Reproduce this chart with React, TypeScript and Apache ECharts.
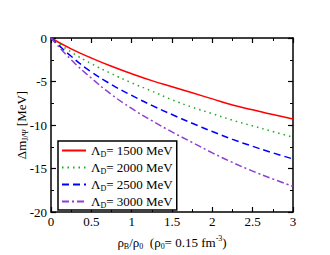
import React, { useEffect, useRef } from "react";
import * as echarts from "echarts";

const xValues = [0, 0.25, 0.5, 0.75, 1, 1.25, 1.5, 1.75, 2, 2.25, 2.5, 2.75, 3];
const lambda1500 = [0, -1.25, -2.3, -3.25, -4.1, -4.9, -5.6, -6.3, -7.0, -7.7, -8.25, -8.8, -9.3];
const lambda2000 = [0, -1.6, -2.95, -4.1, -5.15, -6.1, -7.1, -7.95, -8.7, -9.45, -10.1, -10.75, -11.4];
const lambda2500 = [0, -2.1, -3.9, -5.35, -6.6, -7.75, -8.8, -9.8, -10.75, -11.65, -12.45, -13.2, -13.9];
const lambda3000 = [0, -2.5, -4.6, -6.5, -8.1, -9.5, -10.8, -12.0, -13.2, -14.3, -15.3, -16.2, -17.05];
const seriesNames = ["1500", "2000", "2500", "3000"];
const seriesColors = ["#ff0000", "#1faa1f", "#0000ff", "#8f3fd0"];
const seriesDash: any[] = ["solid", [1.5, 4], [7, 4], [7, 3, 2, 3]];

const FONT = "'Liberation Serif', 'Times New Roman', serif";

export default function App() {
  const ref = useRef<HTMLDivElement>(null);
  useEffect(() => {
    const chart = echarts.init(ref.current!, undefined, { renderer: "svg" });
    const allData = [lambda1500, lambda2000, lambda2500, lambda3000];
    const axisCommon = {
      type: "value",
      axisLine: { show: true, onZero: false, lineStyle: { color: "#000", width: 1.5 } },
      axisTick: { show: true, inside: true, length: 5, lineStyle: { color: "#000", width: 1.2 } },
      minorTick: { show: true, splitNumber: 2, length: 3, lineStyle: { color: "#000", width: 1 } },
      splitLine: { show: false },
    };
    chart.setOption({
      animation: false,
      textStyle: { fontFamily: FONT },
      grid: { left: 51, right: 37, top: 38, bottom: 38 },
      xAxis: [
        {
          ...axisCommon,
          min: 0,
          max: 3,
          interval: 0.5,
          axisLabel: { color: "#000", fontSize: 13, fontFamily: FONT, margin: 3 },
          name: "{a|ρ}{s|B}{a|/ρ}{s|0}{a|  (ρ}{s|0}{a|= 0.15 fm}{p|-3}{a|)}",
          nameLocation: "middle",
          nameGap: 22,
          nameMoveOverlap: false,
          nameTextStyle: {
            rich: {
              a: { fontSize: 13, fontFamily: FONT, color: "#000", lineHeight: 16 },
              s: { fontSize: 8, fontFamily: FONT, color: "#000", padding: [8, 0, 0, 0], lineHeight: 16 },
              p: { fontSize: 8, fontFamily: FONT, color: "#000", padding: [0, 0, 8, 0], lineHeight: 16 },
            },
          },
        },
        {
          ...axisCommon,
          position: "top",
          min: 0,
          max: 3,
          interval: 0.5,
          axisLabel: { show: false },
        },
      ],
      yAxis: [
        {
          ...axisCommon,
          min: -20,
          max: 0,
          interval: 5,
          axisLabel: { color: "#000", fontSize: 13, fontFamily: FONT, margin: 4 },
          name: "{a|Δm}{s|J/Ψ}{a| [MeV]}",
          nameLocation: "middle",
          nameGap: 22,
          nameMoveOverlap: false,
          nameRotate: 90,
          nameTextStyle: {
            rich: {
              a: { fontSize: 13, fontFamily: FONT, color: "#000", lineHeight: 16 },
              s: { fontSize: 8, fontFamily: FONT, color: "#000", padding: [8, 0, 0, 0], lineHeight: 16 },
            },
          },
        },
        {
          ...axisCommon,
          position: "right",
          min: -20,
          max: 0,
          interval: 5,
          axisLabel: { show: false },
        },
      ],
      legend: {
        left: 58,
        top: 141,
        orient: "vertical",
        backgroundColor: "#fff",
        borderColor: "#000",
        borderWidth: 1.5,
        borderRadius: 0,
        padding: [2, 4, 1, 3],
        itemGap: 2,
        itemWidth: 24,
        itemHeight: 14,
        itemStyle: { opacity: 0, borderWidth: 0 },
        data: seriesNames,
        formatter: (name: string) => `{a|Λ}{s|D}{a|= ${name} MeV}`,
        textStyle: {
          fontFamily: FONT,
          rich: {
            a: { fontSize: 13, fontFamily: FONT, color: "#000", lineHeight: 15 },
            s: { fontSize: 8, fontFamily: FONT, color: "#000", padding: [7, 0, 0, 0], lineHeight: 15 },
          },
        },
      },
      series: seriesNames.map((n, i) => ({
        name: n,
        type: "line",
        smooth: true,
        symbol: "none",
        xAxisIndex: 0,
        yAxisIndex: 0,
        data: xValues.map((x, j) => [x, allData[i][j]]),
        lineStyle: { color: seriesColors[i], width: 1.5, type: seriesDash[i] },
        itemStyle: { color: seriesColors[i] },
      })),
    });
    return () => chart.dispose();
  }, []);
  return (
    <div
      ref={ref}
      style={{ position: "absolute", left: 0, top: 0, width: 330, height: 255 }}
    />
  );
}
